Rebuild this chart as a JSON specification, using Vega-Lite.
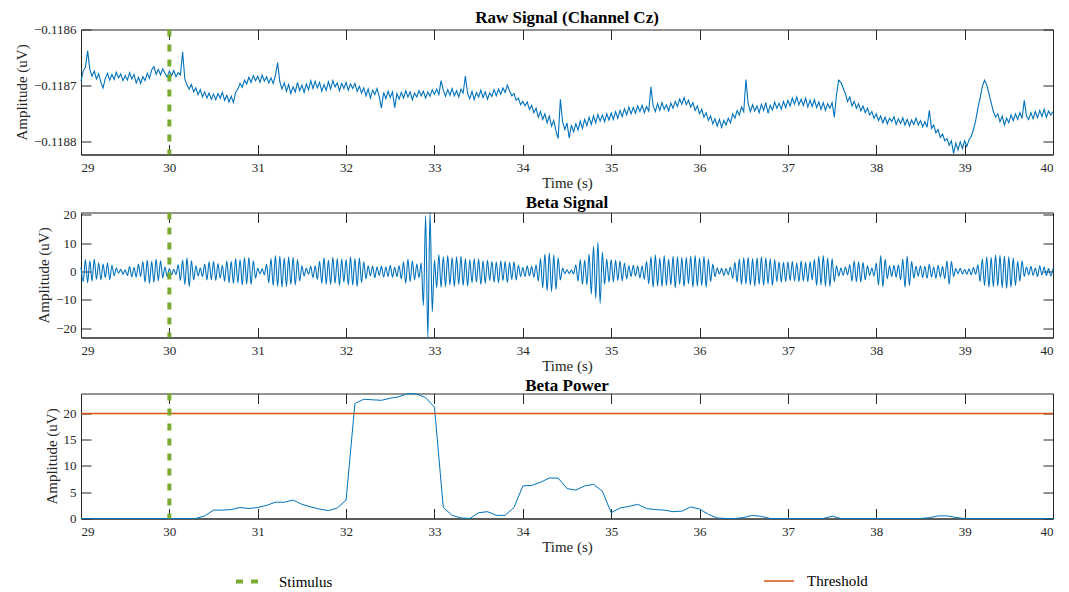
{
"$schema":"https://vega.github.io/schema/vega-lite/v6.json",
"background":"white",
"padding":{"left":13,"top":7.5,"right":5,"bottom":5},
"spacing":1,
"config":{
"font":"Liberation Serif",
"view":{"stroke":"#262626","strokeWidth":1},
"axis":{"domainColor":"#262626","domainWidth":1,"ticks":false,"grid":true,"gridColor":"#262626","gridWidth":1,"gridOpacity":1,"labelOverlap":false,"labelFont":"Liberation Serif","labelFontSize":13,"labelColor":"#262626","titleFont":"Liberation Serif","titleFontSize":15,"titleFontWeight":"normal","titleColor":"#262626"},
"axisX":{"gridDash":[10,105,10],"labelPadding":7,"titlePadding":1},
"axisY":{"gridDash":[10,952,10],"labelPadding":5,"titlePadding":4},
"title":{"font":"Liberation Serif","fontSize":17,"fontWeight":"bold","color":"#000000","offset":-3,"frame":"group"}
},
"datasets":{
"stim":[{"t":30,"series":"Stimulus"}],
"thr":[{"p":20,"series":"Threshold"}],
"power":[
{"t":29.0,"p":0},{"t":29.1,"p":0},{"t":29.2,"p":0},{"t":29.3,"p":0},{"t":29.4,"p":0},{"t":29.5,"p":0},{"t":29.6,"p":0},{"t":29.7,"p":0},{"t":29.8,"p":0},{"t":29.9,"p":0},{"t":30.0,"p":0},{"t":30.1,"p":0},{"t":30.2,"p":0},{"t":30.3,"p":0},{"t":30.4,"p":0.5},{"t":30.5,"p":1.6},{"t":30.6,"p":1.6},{"t":30.7,"p":1.7},{"t":30.8,"p":2.1},{"t":30.9,"p":1.9},{"t":31.0,"p":2.1},{"t":31.1,"p":2.5},{"t":31.2,"p":3.1},{"t":31.3,"p":3.1},{"t":31.4,"p":3.5},{"t":31.5,"p":2.7},{"t":31.6,"p":2.2},{"t":31.7,"p":1.8},{"t":31.8,"p":1.5},{"t":31.9,"p":2.0},{"t":32.0,"p":3.5},{"t":32.1,"p":21.9},{"t":32.2,"p":22.7},{"t":32.3,"p":22.6},{"t":32.4,"p":22.5},{"t":32.5,"p":22.9},{"t":32.6,"p":23.2},{"t":32.7,"p":23.8},{"t":32.8,"p":23.7},{"t":32.9,"p":23.0},{"t":33.0,"p":21.2},{"t":33.1,"p":2.1},{"t":33.2,"p":0.6},{"t":33.3,"p":0.1},{"t":33.4,"p":0},{"t":33.5,"p":1.1},{"t":33.6,"p":1.3},{"t":33.7,"p":0.6},{"t":33.8,"p":0.6},{"t":33.9,"p":2.1},{"t":34.0,"p":6.2},{"t":34.1,"p":6.3},{"t":34.2,"p":6.9},{"t":34.3,"p":7.7},{"t":34.4,"p":7.7},{"t":34.5,"p":5.7},{"t":34.6,"p":5.4},{"t":34.7,"p":6.2},{"t":34.8,"p":6.5},{"t":34.9,"p":5.2},{"t":35.0,"p":1.1},{"t":35.1,"p":2.0},{"t":35.2,"p":2.3},{"t":35.3,"p":2.7},{"t":35.4,"p":1.9},{"t":35.5,"p":1.7},{"t":35.6,"p":1.6},{"t":35.7,"p":1.3},{"t":35.8,"p":1.4},{"t":35.9,"p":2.2},{"t":36.0,"p":1.8},{"t":36.1,"p":0.8},{"t":36.2,"p":0.1},{"t":36.3,"p":0},{"t":36.4,"p":0},{"t":36.5,"p":0.2},{"t":36.6,"p":0.6},{"t":36.7,"p":0.4},{"t":36.8,"p":0},{"t":36.9,"p":0},{"t":37.0,"p":0},{"t":37.1,"p":0},{"t":37.2,"p":0},{"t":37.3,"p":0},{"t":37.4,"p":0},{"t":37.5,"p":0.45},{"t":37.6,"p":0},{"t":37.7,"p":0},{"t":37.8,"p":0},{"t":37.9,"p":0},{"t":38.0,"p":0},{"t":38.1,"p":0},{"t":38.2,"p":0},{"t":38.3,"p":0},{"t":38.4,"p":0},{"t":38.5,"p":0},{"t":38.6,"p":0.15},{"t":38.7,"p":0.5},{"t":38.8,"p":0.5},{"t":38.9,"p":0.2},{"t":39.0,"p":0},{"t":39.1,"p":0},{"t":39.2,"p":0},{"t":39.3,"p":0},{"t":39.4,"p":0},{"t":39.5,"p":0},{"t":39.6,"p":0},{"t":39.7,"p":0},{"t":39.8,"p":0},{"t":39.9,"p":0},{"t":40.0,"p":0}
],
"sig":[
{"t":29,"raw":-0.118692,"beta":1.5},{"t":29.025,"raw":-0.118674,"beta":-3.6},{"t":29.05,"raw":-0.118667,"beta":4.2},{"t":29.075,"raw":-0.118638,"beta":-4.0},{"t":29.1,"raw":-0.118671,"beta":3.8},{"t":29.125,"raw":-0.118683,"beta":-3.4},{"t":29.15,"raw":-0.118674,"beta":4.4},{"t":29.175,"raw":-0.118688,"beta":-2.8},{"t":29.2,"raw":-0.118679,"beta":3.1},{"t":29.225,"raw":-0.118694,"beta":-3.0},
{"t":29.25,"raw":-0.118704,"beta":2.6},{"t":29.275,"raw":-0.118687,"beta":-2.2},{"t":29.3,"raw":-0.118678,"beta":3.0},{"t":29.325,"raw":-0.11869,"beta":-2.9},{"t":29.35,"raw":-0.11868,"beta":2.2},{"t":29.375,"raw":-0.118689,"beta":-1.5},{"t":29.4,"raw":-0.118676,"beta":1.2},{"t":29.425,"raw":-0.118686,"beta":-0.6},{"t":29.45,"raw":-0.118679,"beta":0.8},{"t":29.475,"raw":-0.118691,"beta":-1.0},
{"t":29.5,"raw":-0.118682,"beta":0.6},{"t":29.525,"raw":-0.11869,"beta":-1.4},{"t":29.55,"raw":-0.118677,"beta":1.7},{"t":29.575,"raw":-0.118688,"beta":-1.9},{"t":29.6,"raw":-0.11868,"beta":1.4},{"t":29.625,"raw":-0.118695,"beta":-2.0},{"t":29.65,"raw":-0.118685,"beta":2.6},{"t":29.675,"raw":-0.118696,"beta":-1.8},{"t":29.7,"raw":-0.118684,"beta":3.5},{"t":29.725,"raw":-0.118691,"beta":-3.8},
{"t":29.75,"raw":-0.118678,"beta":4.0},{"t":29.775,"raw":-0.118687,"beta":-4.2},{"t":29.8,"raw":-0.118672,"beta":3.6},{"t":29.825,"raw":-0.118666,"beta":-3.9},{"t":29.85,"raw":-0.11868,"beta":4.4},{"t":29.875,"raw":-0.118671,"beta":-3.3},{"t":29.9,"raw":-0.118681,"beta":3.8},{"t":29.925,"raw":-0.11867,"beta":-2.2},{"t":29.95,"raw":-0.118678,"beta":1.6},{"t":29.975,"raw":-0.118685,"beta":-1.9},
{"t":30,"raw":-0.118674,"beta":1.0},{"t":30.025,"raw":-0.118682,"beta":-1.2},{"t":30.05,"raw":-0.118673,"beta":0.8},{"t":30.075,"raw":-0.118684,"beta":-1.1},{"t":30.1,"raw":-0.118677,"beta":2.4},{"t":30.125,"raw":-0.118681,"beta":-3.2},{"t":30.15,"raw":-0.11864,"beta":4.0},{"t":30.175,"raw":-0.118688,"beta":-4.6},{"t":30.2,"raw":-0.118699,"beta":4.8},{"t":30.225,"raw":-0.118706,"beta":-5.4},
{"t":30.25,"raw":-0.118698,"beta":3.9},{"t":30.275,"raw":-0.118711,"beta":-3.0},{"t":30.3,"raw":-0.118704,"beta":2.0},{"t":30.325,"raw":-0.118716,"beta":-1.6},{"t":30.35,"raw":-0.118707,"beta":1.2},{"t":30.375,"raw":-0.11872,"beta":-1.8},{"t":30.4,"raw":-0.118711,"beta":2.6},{"t":30.425,"raw":-0.118722,"beta":-3.0},{"t":30.45,"raw":-0.118713,"beta":3.4},{"t":30.475,"raw":-0.118724,"beta":-2.9},
{"t":30.5,"raw":-0.118715,"beta":3.6},{"t":30.525,"raw":-0.118725,"beta":-3.2},{"t":30.55,"raw":-0.118714,"beta":2.8},{"t":30.575,"raw":-0.118722,"beta":-2.4},{"t":30.6,"raw":-0.118712,"beta":2.2},{"t":30.625,"raw":-0.118726,"beta":-3.4},{"t":30.65,"raw":-0.118717,"beta":3.8},{"t":30.675,"raw":-0.118729,"beta":-4.0},{"t":30.7,"raw":-0.118719,"beta":3.6},{"t":30.725,"raw":-0.11873,"beta":-4.3},
{"t":30.75,"raw":-0.118712,"beta":4.6},{"t":30.775,"raw":-0.118706,"beta":-4.0},{"t":30.8,"raw":-0.118696,"beta":4.2},{"t":30.825,"raw":-0.118703,"beta":-4.8},{"t":30.85,"raw":-0.11869,"beta":4.9},{"t":30.875,"raw":-0.118697,"beta":-4.4},{"t":30.9,"raw":-0.118685,"beta":5.0},{"t":30.925,"raw":-0.118694,"beta":-4.6},{"t":30.95,"raw":-0.118682,"beta":3.8},{"t":30.975,"raw":-0.118691,"beta":-2.4},
{"t":31,"raw":-0.118683,"beta":1.2},{"t":31.025,"raw":-0.118694,"beta":-0.8},{"t":31.05,"raw":-0.118681,"beta":0.9},{"t":31.075,"raw":-0.118692,"beta":-1.2},{"t":31.1,"raw":-0.118684,"beta":2.5},{"t":31.125,"raw":-0.118695,"beta":-4.0},{"t":31.15,"raw":-0.118686,"beta":4.6},{"t":31.175,"raw":-0.118696,"beta":-5.0},{"t":31.2,"raw":-0.118682,"beta":5.6},{"t":31.225,"raw":-0.118659,"beta":-5.2},
{"t":31.25,"raw":-0.118693,"beta":5.4},{"t":31.275,"raw":-0.118706,"beta":-5.5},{"t":31.3,"raw":-0.118695,"beta":4.8},{"t":31.325,"raw":-0.11871,"beta":-5.4},{"t":31.35,"raw":-0.118698,"beta":5.2},{"t":31.375,"raw":-0.118714,"beta":-4.6},{"t":31.4,"raw":-0.118702,"beta":5.0},{"t":31.425,"raw":-0.118711,"beta":-4.8},{"t":31.45,"raw":-0.118694,"beta":4.2},{"t":31.475,"raw":-0.118709,"beta":-3.4},
{"t":31.5,"raw":-0.118699,"beta":2.0},{"t":31.525,"raw":-0.118712,"beta":-1.6},{"t":31.55,"raw":-0.118697,"beta":1.2},{"t":31.575,"raw":-0.118707,"beta":-1.0},{"t":31.6,"raw":-0.118691,"beta":1.8},{"t":31.625,"raw":-0.118705,"beta":-2.2},{"t":31.65,"raw":-0.118692,"beta":2.0},{"t":31.675,"raw":-0.118704,"beta":-2.8},{"t":31.7,"raw":-0.118694,"beta":3.6},{"t":31.725,"raw":-0.11871,"beta":-4.2},
{"t":31.75,"raw":-0.118698,"beta":4.8},{"t":31.775,"raw":-0.118708,"beta":-4.5},{"t":31.8,"raw":-0.118693,"beta":4.0},{"t":31.825,"raw":-0.118706,"beta":-4.6},{"t":31.85,"raw":-0.118691,"beta":5.0},{"t":31.875,"raw":-0.118702,"beta":-4.2},{"t":31.9,"raw":-0.118695,"beta":4.6},{"t":31.925,"raw":-0.118709,"beta":-5.0},{"t":31.95,"raw":-0.118696,"beta":4.4},{"t":31.975,"raw":-0.118705,"beta":-3.8},
{"t":32,"raw":-0.118694,"beta":4.2},{"t":32.025,"raw":-0.118708,"beta":-4.8},{"t":32.05,"raw":-0.118697,"beta":5.2},{"t":32.075,"raw":-0.118705,"beta":-4.9},{"t":32.1,"raw":-0.118696,"beta":4.6},{"t":32.125,"raw":-0.11871,"beta":-5.4},{"t":32.15,"raw":-0.118701,"beta":4.8},{"t":32.175,"raw":-0.118713,"beta":-4.0},{"t":32.2,"raw":-0.118704,"beta":3.4},{"t":32.225,"raw":-0.118718,"beta":-2.6},
{"t":32.25,"raw":-0.118706,"beta":2.0},{"t":32.275,"raw":-0.118722,"beta":-1.6},{"t":32.3,"raw":-0.118708,"beta":1.9},{"t":32.325,"raw":-0.118716,"beta":-2.2},{"t":32.35,"raw":-0.118705,"beta":1.6},{"t":32.375,"raw":-0.11872,"beta":-1.4},{"t":32.4,"raw":-0.11874,"beta":1.8},{"t":32.425,"raw":-0.118712,"beta":-2.0},{"t":32.45,"raw":-0.118723,"beta":1.6},{"t":32.475,"raw":-0.11871,"beta":-1.8},
{"t":32.5,"raw":-0.118721,"beta":2.2},{"t":32.525,"raw":-0.118711,"beta":-2.0},{"t":32.55,"raw":-0.118739,"beta":1.5},{"t":32.575,"raw":-0.118714,"beta":-1.8},{"t":32.6,"raw":-0.118724,"beta":2.0},{"t":32.625,"raw":-0.118712,"beta":-2.6},{"t":32.65,"raw":-0.118722,"beta":3.4},{"t":32.675,"raw":-0.118709,"beta":-4.2},{"t":32.7,"raw":-0.11872,"beta":4.4},{"t":32.725,"raw":-0.118711,"beta":-3.6},
{"t":32.75,"raw":-0.118725,"beta":3.8},{"t":32.775,"raw":-0.118713,"beta":-3.0},{"t":32.8,"raw":-0.11872,"beta":2.6},{"t":32.825,"raw":-0.118709,"beta":-2.2},{"t":32.85,"raw":-0.118718,"beta":3.0},{"t":32.875,"raw":-0.11871,"beta":-12.0},{"t":32.9,"raw":-0.118722,"beta":19.8},{"t":32.925,"raw":-0.118711,"beta":-23.35},{"t":32.95,"raw":-0.118719,"beta":20.85},{"t":32.975,"raw":-0.118707,"beta":-14.3},
{"t":33,"raw":-0.118715,"beta":4.0},{"t":33.025,"raw":-0.118706,"beta":-5.8},{"t":33.05,"raw":-0.118716,"beta":6.0},{"t":33.075,"raw":-0.118691,"beta":-5.6},{"t":33.1,"raw":-0.118708,"beta":5.2},{"t":33.125,"raw":-0.118719,"beta":-5.4},{"t":33.15,"raw":-0.118707,"beta":5.6},{"t":33.175,"raw":-0.118717,"beta":-4.8},{"t":33.2,"raw":-0.118705,"beta":5.0},{"t":33.225,"raw":-0.118718,"beta":-5.4},
{"t":33.25,"raw":-0.118709,"beta":5.2},{"t":33.275,"raw":-0.11872,"beta":-4.6},{"t":33.3,"raw":-0.118706,"beta":5.4},{"t":33.325,"raw":-0.118713,"beta":-5.0},{"t":33.35,"raw":-0.118683,"beta":4.6},{"t":33.375,"raw":-0.118714,"beta":-5.2},{"t":33.4,"raw":-0.118723,"beta":4.2},{"t":33.425,"raw":-0.11871,"beta":-4.0},{"t":33.45,"raw":-0.118725,"beta":4.5},{"t":33.475,"raw":-0.118712,"beta":-3.8},
{"t":33.5,"raw":-0.11872,"beta":4.4},{"t":33.525,"raw":-0.118708,"beta":-4.6},{"t":33.55,"raw":-0.118721,"beta":3.8},{"t":33.575,"raw":-0.118711,"beta":-4.2},{"t":33.6,"raw":-0.118724,"beta":4.0},{"t":33.625,"raw":-0.118713,"beta":-3.2},{"t":33.65,"raw":-0.118719,"beta":3.6},{"t":33.675,"raw":-0.118707,"beta":-3.8},{"t":33.7,"raw":-0.118718,"beta":3.4},{"t":33.725,"raw":-0.118706,"beta":-4.0},
{"t":33.75,"raw":-0.118715,"beta":3.8},{"t":33.775,"raw":-0.118704,"beta":-3.2},{"t":33.8,"raw":-0.118712,"beta":3.6},{"t":33.825,"raw":-0.118699,"beta":-3.9},{"t":33.85,"raw":-0.118709,"beta":3.2},{"t":33.875,"raw":-0.118718,"beta":-2.8},{"t":33.9,"raw":-0.118714,"beta":3.4},{"t":33.925,"raw":-0.118726,"beta":-3.0},{"t":33.95,"raw":-0.118722,"beta":2.2},{"t":33.975,"raw":-0.118734,"beta":-1.8},
{"t":34,"raw":-0.118728,"beta":1.4},{"t":34.025,"raw":-0.118736,"beta":-1.8},{"t":34.05,"raw":-0.118729,"beta":2.0},{"t":34.075,"raw":-0.118742,"beta":-1.6},{"t":34.1,"raw":-0.118735,"beta":1.8},{"t":34.125,"raw":-0.118748,"beta":-2.0},{"t":34.15,"raw":-0.11874,"beta":2.4},{"t":34.175,"raw":-0.118756,"beta":-3.4},{"t":34.2,"raw":-0.118746,"beta":4.6},{"t":34.225,"raw":-0.11876,"beta":-5.8},
{"t":34.25,"raw":-0.11875,"beta":6.2},{"t":34.275,"raw":-0.118766,"beta":-6.8},{"t":34.3,"raw":-0.118754,"beta":6.5},{"t":34.325,"raw":-0.118772,"beta":-7.1},{"t":34.35,"raw":-0.118762,"beta":5.8},{"t":34.375,"raw":-0.11878,"beta":-6.4},{"t":34.4,"raw":-0.118794,"beta":4.8},{"t":34.425,"raw":-0.118724,"beta":-3.0},{"t":34.45,"raw":-0.118764,"beta":1.2},{"t":34.475,"raw":-0.118778,"beta":-0.8},
{"t":34.5,"raw":-0.118766,"beta":0.6},{"t":34.525,"raw":-0.118793,"beta":-0.7},{"t":34.55,"raw":-0.11877,"beta":0.5},{"t":34.575,"raw":-0.118782,"beta":-0.9},{"t":34.6,"raw":-0.118768,"beta":2.4},{"t":34.625,"raw":-0.118779,"beta":-3.4},{"t":34.65,"raw":-0.118763,"beta":4.2},{"t":34.675,"raw":-0.118776,"beta":-4.6},{"t":34.7,"raw":-0.11876,"beta":4.0},{"t":34.725,"raw":-0.118771,"beta":-4.8},
{"t":34.75,"raw":-0.118756,"beta":6.2},{"t":34.775,"raw":-0.118769,"beta":-8.0},{"t":34.8,"raw":-0.118754,"beta":9.0},{"t":34.825,"raw":-0.118766,"beta":-9.6},{"t":34.85,"raw":-0.118751,"beta":10.4},{"t":34.875,"raw":-0.118763,"beta":-11.3},{"t":34.9,"raw":-0.118752,"beta":6.8},{"t":34.925,"raw":-0.118764,"beta":-4.6},{"t":34.95,"raw":-0.11875,"beta":4.4},{"t":34.975,"raw":-0.118761,"beta":-3.8},
{"t":35,"raw":-0.118749,"beta":4.2},{"t":35.025,"raw":-0.11876,"beta":-3.6},{"t":35.05,"raw":-0.118746,"beta":4.0},{"t":35.075,"raw":-0.118758,"beta":-3.2},{"t":35.1,"raw":-0.118744,"beta":3.8},{"t":35.125,"raw":-0.118755,"beta":-3.4},{"t":35.15,"raw":-0.118741,"beta":3.0},{"t":35.175,"raw":-0.118752,"beta":-2.6},{"t":35.2,"raw":-0.118738,"beta":2.0},{"t":35.225,"raw":-0.11875,"beta":-1.8},
{"t":35.25,"raw":-0.118739,"beta":2.2},{"t":35.275,"raw":-0.118749,"beta":-1.6},{"t":35.3,"raw":-0.118736,"beta":1.9},{"t":35.325,"raw":-0.118746,"beta":-2.3},{"t":35.35,"raw":-0.118735,"beta":2.0},{"t":35.375,"raw":-0.118748,"beta":-2.8},{"t":35.4,"raw":-0.118737,"beta":3.6},{"t":35.425,"raw":-0.118745,"beta":-4.4},{"t":35.45,"raw":-0.118702,"beta":5.2},{"t":35.475,"raw":-0.118736,"beta":-5.6},
{"t":35.5,"raw":-0.118746,"beta":5.8},{"t":35.525,"raw":-0.118732,"beta":-5.2},{"t":35.55,"raw":-0.118744,"beta":4.8},{"t":35.575,"raw":-0.11873,"beta":-5.4},{"t":35.6,"raw":-0.118742,"beta":5.6},{"t":35.625,"raw":-0.118734,"beta":-5.0},{"t":35.65,"raw":-0.118745,"beta":4.4},{"t":35.675,"raw":-0.118731,"beta":-4.8},{"t":35.7,"raw":-0.11874,"beta":5.4},{"t":35.725,"raw":-0.118728,"beta":-5.8},
{"t":35.75,"raw":-0.118737,"beta":5.2},{"t":35.775,"raw":-0.118724,"beta":-4.6},{"t":35.8,"raw":-0.118733,"beta":4.9},{"t":35.825,"raw":-0.118721,"beta":-5.4},{"t":35.85,"raw":-0.118734,"beta":5.0},{"t":35.875,"raw":-0.118726,"beta":-4.4},{"t":35.9,"raw":-0.118738,"beta":5.4},{"t":35.925,"raw":-0.11873,"beta":-5.6},{"t":35.95,"raw":-0.118744,"beta":5.6},{"t":35.975,"raw":-0.118736,"beta":-5.2},
{"t":36,"raw":-0.11875,"beta":4.8},{"t":36.025,"raw":-0.118742,"beta":-5.0},{"t":36.05,"raw":-0.118756,"beta":5.4},{"t":36.075,"raw":-0.118748,"beta":-5.6},{"t":36.1,"raw":-0.118762,"beta":4.4},{"t":36.125,"raw":-0.118754,"beta":-3.6},{"t":36.15,"raw":-0.118768,"beta":2.6},{"t":36.175,"raw":-0.118759,"beta":-1.8},{"t":36.2,"raw":-0.118772,"beta":1.2},{"t":36.225,"raw":-0.11876,"beta":-0.9},
{"t":36.25,"raw":-0.118774,"beta":1.1},{"t":36.275,"raw":-0.118762,"beta":-1.4},{"t":36.3,"raw":-0.11877,"beta":1.0},{"t":36.325,"raw":-0.118758,"beta":-1.2},{"t":36.35,"raw":-0.118766,"beta":1.6},{"t":36.375,"raw":-0.11875,"beta":-2.4},{"t":36.4,"raw":-0.118758,"beta":3.2},{"t":36.425,"raw":-0.118744,"beta":-3.8},{"t":36.45,"raw":-0.118752,"beta":4.4},{"t":36.475,"raw":-0.118738,"beta":-4.6},
{"t":36.5,"raw":-0.118746,"beta":4.8},{"t":36.525,"raw":-0.118689,"beta":-4.4},{"t":36.55,"raw":-0.118732,"beta":5.0},{"t":36.575,"raw":-0.118746,"beta":-4.8},{"t":36.6,"raw":-0.118734,"beta":4.6},{"t":36.625,"raw":-0.118745,"beta":-5.2},{"t":36.65,"raw":-0.118736,"beta":4.8},{"t":36.675,"raw":-0.118748,"beta":-4.6},{"t":36.7,"raw":-0.118733,"beta":5.2},{"t":36.725,"raw":-0.118744,"beta":-5.0},
{"t":36.75,"raw":-0.11873,"beta":4.8},{"t":36.775,"raw":-0.118749,"beta":-4.4},{"t":36.8,"raw":-0.118735,"beta":4.6},{"t":36.825,"raw":-0.118743,"beta":-5.0},{"t":36.85,"raw":-0.118729,"beta":4.2},{"t":36.875,"raw":-0.11874,"beta":-3.6},{"t":36.9,"raw":-0.118731,"beta":3.4},{"t":36.925,"raw":-0.118742,"beta":-3.8},{"t":36.95,"raw":-0.118728,"beta":3.2},{"t":36.975,"raw":-0.118739,"beta":-3.6},
{"t":37,"raw":-0.118726,"beta":3.4},{"t":37.025,"raw":-0.118736,"beta":-3.2},{"t":37.05,"raw":-0.118722,"beta":3.6},{"t":37.075,"raw":-0.118733,"beta":-3.4},{"t":37.1,"raw":-0.11872,"beta":3.0},{"t":37.125,"raw":-0.118734,"beta":-3.6},{"t":37.15,"raw":-0.118724,"beta":3.8},{"t":37.175,"raw":-0.118735,"beta":-3.4},{"t":37.2,"raw":-0.118722,"beta":3.2},{"t":37.225,"raw":-0.118738,"beta":-3.6},
{"t":37.25,"raw":-0.118726,"beta":3.4},{"t":37.275,"raw":-0.118737,"beta":-3.0},{"t":37.3,"raw":-0.118725,"beta":4.2},{"t":37.325,"raw":-0.118739,"beta":-5.0},{"t":37.35,"raw":-0.118729,"beta":5.4},{"t":37.375,"raw":-0.118742,"beta":-4.8},{"t":37.4,"raw":-0.11873,"beta":5.6},{"t":37.425,"raw":-0.118744,"beta":-5.2},{"t":37.45,"raw":-0.118732,"beta":4.8},{"t":37.475,"raw":-0.11874,"beta":-5.4},
{"t":37.5,"raw":-0.11873,"beta":4.6},{"t":37.525,"raw":-0.118756,"beta":-3.6},{"t":37.55,"raw":-0.118716,"beta":2.0},{"t":37.575,"raw":-0.11869,"beta":-1.6},{"t":37.6,"raw":-0.118694,"beta":1.2},{"t":37.625,"raw":-0.118704,"beta":-1.4},{"t":37.65,"raw":-0.118714,"beta":1.6},{"t":37.675,"raw":-0.118728,"beta":-1.2},{"t":37.7,"raw":-0.11872,"beta":2.4},{"t":37.725,"raw":-0.118736,"beta":-3.4},
{"t":37.75,"raw":-0.118728,"beta":3.8},{"t":37.775,"raw":-0.11874,"beta":-3.6},{"t":37.8,"raw":-0.118732,"beta":3.4},{"t":37.825,"raw":-0.118745,"beta":-3.8},{"t":37.85,"raw":-0.118736,"beta":3.2},{"t":37.875,"raw":-0.118748,"beta":-3.0},{"t":37.9,"raw":-0.11874,"beta":2.0},{"t":37.925,"raw":-0.118752,"beta":-1.4},{"t":37.95,"raw":-0.118746,"beta":1.2},{"t":37.975,"raw":-0.118758,"beta":-1.6},
{"t":38,"raw":-0.11875,"beta":3.0},{"t":38.025,"raw":-0.118762,"beta":-4.8},{"t":38.05,"raw":-0.118754,"beta":5.6},{"t":38.075,"raw":-0.118766,"beta":-5.4},{"t":38.1,"raw":-0.118756,"beta":4.4},{"t":38.125,"raw":-0.118768,"beta":-2.6},{"t":38.15,"raw":-0.118758,"beta":2.0},{"t":38.175,"raw":-0.118764,"beta":-1.8},{"t":38.2,"raw":-0.118755,"beta":2.2},{"t":38.225,"raw":-0.118769,"beta":-2.0},
{"t":38.25,"raw":-0.118759,"beta":2.4},{"t":38.275,"raw":-0.118767,"beta":-3.0},{"t":38.3,"raw":-0.118757,"beta":4.4},{"t":38.325,"raw":-0.11877,"beta":-5.6},{"t":38.35,"raw":-0.11876,"beta":5.4},{"t":38.375,"raw":-0.118772,"beta":-5.0},{"t":38.4,"raw":-0.118761,"beta":3.6},{"t":38.425,"raw":-0.118769,"beta":-2.4},{"t":38.45,"raw":-0.118758,"beta":1.8},{"t":38.475,"raw":-0.11877,"beta":-1.6},
{"t":38.5,"raw":-0.118762,"beta":2.0},{"t":38.525,"raw":-0.118773,"beta":-2.2},{"t":38.55,"raw":-0.118764,"beta":1.8},{"t":38.575,"raw":-0.118774,"beta":-2.4},{"t":38.6,"raw":-0.118744,"beta":2.6},{"t":38.625,"raw":-0.118776,"beta":-2.0},{"t":38.65,"raw":-0.11877,"beta":1.6},{"t":38.675,"raw":-0.118784,"beta":-2.4},{"t":38.7,"raw":-0.118778,"beta":2.2},{"t":38.725,"raw":-0.118792,"beta":-2.0},
{"t":38.75,"raw":-0.118786,"beta":1.8},{"t":38.775,"raw":-0.118798,"beta":-2.6},{"t":38.8,"raw":-0.118794,"beta":3.8},{"t":38.825,"raw":-0.118806,"beta":-4.6},{"t":38.85,"raw":-0.118798,"beta":3.6},{"t":38.875,"raw":-0.118821,"beta":-1.8},{"t":38.9,"raw":-0.118802,"beta":1.0},{"t":38.925,"raw":-0.118814,"beta":-0.8},{"t":38.95,"raw":-0.1188,"beta":1.1},{"t":38.975,"raw":-0.118812,"beta":-0.9},
{"t":39,"raw":-0.118798,"beta":0.8},{"t":39.025,"raw":-0.118808,"beta":-1.0},{"t":39.05,"raw":-0.118796,"beta":0.9},{"t":39.075,"raw":-0.11879,"beta":-1.2},{"t":39.1,"raw":-0.118778,"beta":1.4},{"t":39.125,"raw":-0.118762,"beta":-1.0},{"t":39.15,"raw":-0.11874,"beta":2.4},{"t":39.175,"raw":-0.118722,"beta":-3.6},{"t":39.2,"raw":-0.118702,"beta":4.4},{"t":39.225,"raw":-0.11869,"beta":-5.0},
{"t":39.25,"raw":-0.118698,"beta":5.2},{"t":39.275,"raw":-0.118714,"beta":-5.6},{"t":39.3,"raw":-0.11873,"beta":5.0},{"t":39.325,"raw":-0.118746,"beta":-5.4},{"t":39.35,"raw":-0.118756,"beta":5.8},{"t":39.375,"raw":-0.11875,"beta":-5.2},{"t":39.4,"raw":-0.118764,"beta":5.6},{"t":39.425,"raw":-0.118754,"beta":-5.8},{"t":39.45,"raw":-0.11877,"beta":5.4},{"t":39.475,"raw":-0.118758,"beta":-6.0},
{"t":39.5,"raw":-0.118766,"beta":5.2},{"t":39.525,"raw":-0.118752,"beta":-5.6},{"t":39.55,"raw":-0.118762,"beta":4.8},{"t":39.575,"raw":-0.11875,"beta":-5.0},{"t":39.6,"raw":-0.11876,"beta":3.6},{"t":39.625,"raw":-0.118748,"beta":-3.4},{"t":39.65,"raw":-0.118758,"beta":3.8},{"t":39.675,"raw":-0.118726,"beta":-1.8},{"t":39.7,"raw":-0.118754,"beta":1.6},{"t":39.725,"raw":-0.11876,"beta":-1.2},
{"t":39.75,"raw":-0.118748,"beta":1.8},{"t":39.775,"raw":-0.118759,"beta":-1.4},{"t":39.8,"raw":-0.118746,"beta":1.2},{"t":39.825,"raw":-0.118757,"beta":-1.8},{"t":39.85,"raw":-0.118744,"beta":2.0},{"t":39.875,"raw":-0.118755,"beta":-1.2},{"t":39.9,"raw":-0.118742,"beta":1.6},{"t":39.925,"raw":-0.118756,"beta":-1.4},{"t":39.95,"raw":-0.118745,"beta":1.0},{"t":39.975,"raw":-0.118752,"beta":-1.6},
{"t":40,"raw":-0.118746,"beta":1.0}
]
},
"vconcat":[
{"width":972,"height":125,"title":"Raw Signal (Channel Cz)",
"layer":[
{"data":{"name":"sig"},"mark":{"type":"line","color":"#0072BD","strokeWidth":1.1},
"encoding":{"x":{"field":"t","type":"quantitative","scale":{"domain":[29,40],"nice":false},"axis":{"values":[29,30,31,32,33,34,35,36,37,38,39,40],"format":"d","title":"Time (s)"}},
"y":{"field":"raw","type":"quantitative","scale":{"domain":[-0.1188224,-0.1186],"nice":false,"zero":false},"axis":{"values":[-0.1188,-0.1187,-0.1186],"format":".4f","title":"Amplitude (uV)"}}}},
{"data":{"name":"stim"},"mark":{"type":"rule","color":"#77AC30","strokeWidth":4,"strokeDash":[7,8]},
"encoding":{"x":{"field":"t","type":"quantitative"}}}
]},
{"width":972,"height":125,"title":"Beta Signal",
"layer":[
{"data":{"name":"sig"},"mark":{"type":"line","color":"#0072BD","strokeWidth":1.1,"interpolate":"monotone"},
"encoding":{"x":{"field":"t","type":"quantitative","scale":{"domain":[29,40],"nice":false},"axis":{"values":[29,30,31,32,33,34,35,36,37,38,39,40],"format":"d","title":"Time (s)"}},
"y":{"field":"beta","type":"quantitative","scale":{"domain":[-23.35,20.85],"nice":false,"zero":false},"axis":{"values":[-20,-10,0,10,20],"format":"d","title":"Amplitude (uV)"}}}},
{"data":{"name":"stim"},"mark":{"type":"rule","color":"#77AC30","strokeWidth":4,"strokeDash":[7,8]},
"encoding":{"x":{"field":"t","type":"quantitative"}}}
]},
{"width":972,"height":125,"title":"Beta Power",
"layer":[
{"data":{"name":"power"},"mark":{"type":"line","color":"#0072BD","strokeWidth":1},
"encoding":{"x":{"field":"t","type":"quantitative","scale":{"domain":[29,40],"nice":false},"axis":{"values":[29,30,31,32,33,34,35,36,37,38,39,40],"format":"d","title":"Time (s)"}},
"y":{"field":"p","type":"quantitative","scale":{"domain":[0,23.8],"nice":false},"axis":{"values":[0,5,10,15,20],"format":"d","title":"Amplitude (uV)"}}}},
{"data":{"name":"thr"},"mark":{"type":"rule"},
"encoding":{"y":{"field":"p","type":"quantitative","axis":{"values":[0,5,10,15,20],"format":"d","title":"Amplitude (uV)"}},
"color":{"field":"series","type":"nominal","scale":{"domain":["Stimulus","Threshold"],"range":["#77AC30","#D95319"]},"legend":{"title":null,"orient":"none","legendX":153,"legendY":535,"direction":"horizontal","columns":2,"columnPadding":428,"symbolType":"stroke","symbolSize":900,"labelOffset":11,"labelFontSize":15,"labelFont":"Liberation Serif","labelColor":"#000000","padding":0}},
"strokeDash":{"field":"series","type":"nominal","scale":{"domain":["Stimulus","Threshold"],"range":[[7,8],[1,0]]},"legend":{"title":null,"orient":"none","legendX":153,"legendY":535,"direction":"horizontal","columns":2,"columnPadding":428,"symbolType":"stroke","symbolSize":900,"labelOffset":11,"labelFontSize":15,"labelFont":"Liberation Serif","labelColor":"#000000","padding":0}},
"strokeWidth":{"field":"series","type":"nominal","scale":{"type":"point","domain":["Stimulus","Threshold"],"range":[4,1.5],"padding":0},"legend":{"title":null,"orient":"none","legendX":153,"legendY":535,"direction":"horizontal","columns":2,"columnPadding":428,"symbolType":"stroke","symbolSize":900,"labelOffset":11,"labelFontSize":15,"labelFont":"Liberation Serif","labelColor":"#000000","padding":0}}}},
{"data":{"name":"stim"},"mark":{"type":"rule"},
"encoding":{"x":{"field":"t","type":"quantitative"},
"color":{"field":"series","type":"nominal"},
"strokeDash":{"field":"series","type":"nominal"},
"strokeWidth":{"field":"series","type":"nominal"}}}
]}
]
}
